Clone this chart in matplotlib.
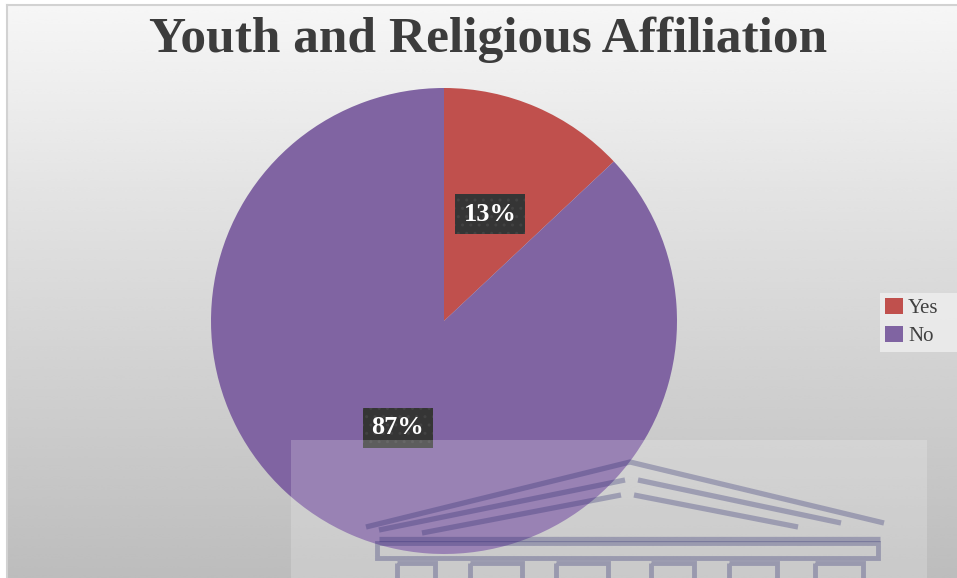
import numpy as np
import matplotlib
matplotlib.use("Agg")
import matplotlib.pyplot as plt
from matplotlib.patches import Rectangle

# data
labels = ["Yes", "No"]
shares = [13, 87]
colors = ["#C0504D", "#8064A2"]
title = "Youth and Religious Affiliation"

W, H = 957, 578
fig = plt.figure(figsize=(W / 100, H / 100), dpi=100, facecolor="white")

# background panel with a soft vertical gradient
bg = fig.add_axes([0, 0, 1, 1])
bg.set_xlim(0, W)
bg.set_ylim(H, 0)
bg.axis("off")
ramp = np.linspace(0.965, 0.74, 256)[:, None]
ramp = np.repeat(ramp, 2, axis=1)
bg.imshow(ramp, cmap="gray", vmin=0, vmax=1, extent=[7, W, H, 5],
          aspect="auto", interpolation="bicubic")
bg.plot([7, W], [5, 5], color="#d2d2d2", lw=1.5)
bg.plot([7, 7], [5, H], color="#d2d2d2", lw=1.5)
# pale strip behind the legend, running to the right edge
bg.add_patch(Rectangle((880, 293), W - 880, 59, facecolor="#efefef",
                       alpha=0.8, edgecolor="none"))
bg.set_xlim(0, W)
bg.set_ylim(H, 0)

fig.text(488 / W, 1 - 52 / H, title, ha="center", va="baseline",
         fontsize=37, fontweight="bold", family="Liberation Serif",
         color="#3c3c3c")

# pie
ax = fig.add_axes([(444 - 233) / W, 1 - 554 / H, 466 / W, 466 / H])
wedges, texts, autotexts = ax.pie(
    shares, colors=colors, startangle=90, counterclock=False,
    autopct="%d%%", pctdistance=0.5, radius=1.0,
    wedgeprops=dict(linewidth=0),
    textprops=dict(color="white", fontsize=19, fontweight="bold",
                   family="Liberation Serif"))
for t in autotexts:
    t.set_bbox(dict(boxstyle="square,pad=0.32", facecolor="#353535",
                    edgecolor="#424242", linewidth=0, hatch=".."))
ax.set_xlim(-1, 1)
ax.set_ylim(-1, 1)
ax.set_aspect("equal")

leg = fig.legend(wedges, labels, loc="center left",
                 bbox_to_anchor=(880 / W, 1 - 322 / H),
                 prop=dict(family="Liberation Serif", size=15),
                 handlelength=0.85, handleheight=0.85, handletextpad=0.25,
                 labelspacing=0.35, borderpad=0.25, borderaxespad=0,
                 frameon=False)
for t in leg.get_texts():
    t.set_color("#404040")

# faint crest stamped over the lower part
top = fig.add_axes([0, 0, 1, 1])
top.set_xlim(0, W)
top.set_ylim(H, 0)
top.axis("off")
top.patch.set_alpha(0)
top.add_patch(Rectangle((291, 440), 636, 140, facecolor="white",
                        alpha=0.2, edgecolor="none"))
ink = dict(color=(0.16, 0.16, 0.43), alpha=0.3, lw=3.8,
           solid_capstyle="butt", solid_joinstyle="miter")
top.plot([366, 630, 884], [527, 462, 523], **ink)
top.plot([379, 625], [530, 480], **ink)
top.plot([638, 841], [480, 523], **ink)
top.plot([422, 621], [533, 495], **ink)
top.plot([634, 798], [495, 527], **ink)
top.plot([379, 880], [539, 539], **ink)
top.add_patch(Rectangle((377, 543), 501, 15, fill=False,
                        edgecolor=(0.16, 0.16, 0.43), alpha=0.3, lw=3.5))
for x0, x1 in [(397, 435), (470, 522), (556, 608), (651, 694),
               (729, 777), (815, 863)]:
    top.add_patch(Rectangle((x0, 563), x1 - x0, 20, fill=False,
                            edgecolor=(0.16, 0.16, 0.43), alpha=0.3, lw=3.5))

fig.savefig("out.png", dpi=100)
